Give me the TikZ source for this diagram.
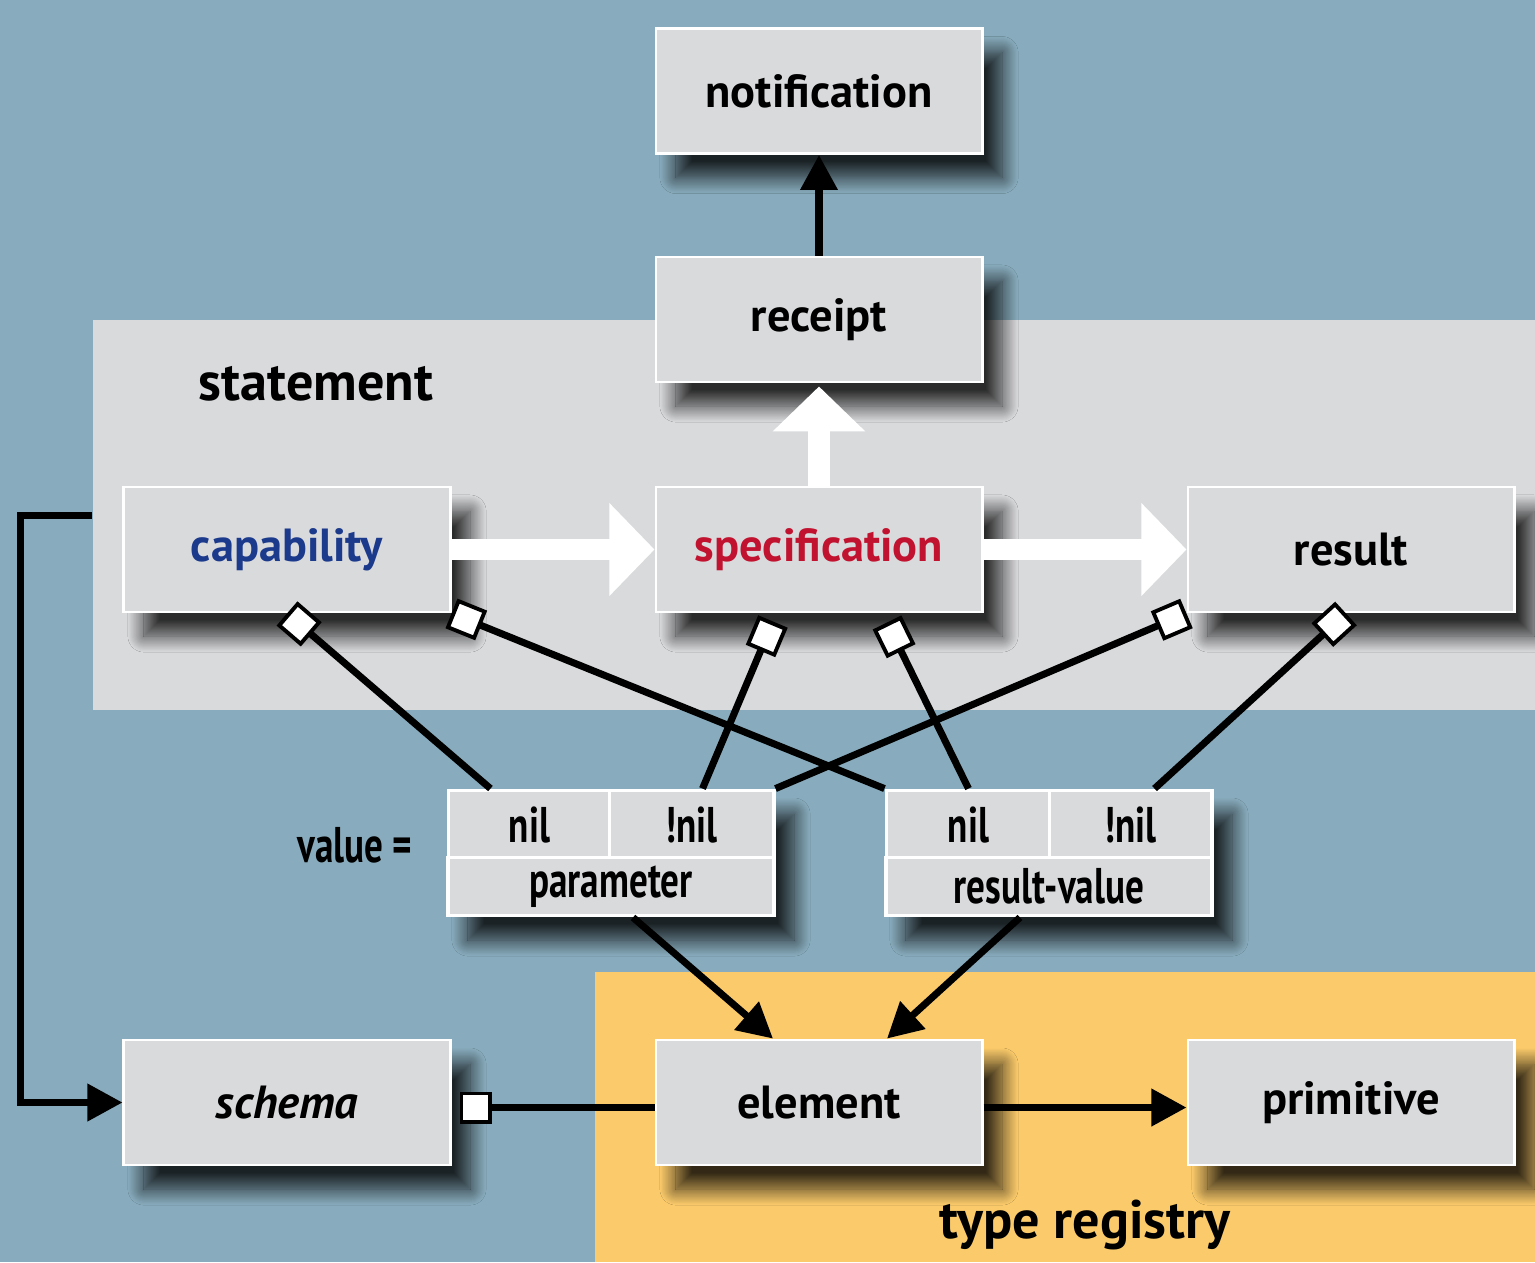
\documentclass[tikz,border=0pt]{standalone}
\usepackage{fontspec}
\usepackage{graphicx}
\setmainfont{PT Sans}
\usetikzlibrary{arrows.meta,shadows.blur}
\definecolor{bgblue}{HTML}{88ACBD}
\definecolor{panelgray}{HTML}{D9DADC}
\definecolor{regyellow}{HTML}{FBCB6B}
\definecolor{capblue}{HTML}{1C3A8C}
\definecolor{specred}{HTML}{C1122F}
\tikzset{
  lbl/.style={font=\fontsize{13.2}{15}\selectfont\bfseries, inner sep=0pt},
  panellbl/.style={font=\fontsize{15.4}{17}\selectfont\bfseries, inner sep=0pt},
  box/.style={rectangle, fill=panelgray, draw=white, line width=0.8pt, minimum width=3.26cm, minimum height=1.25cm,
    lbl, blur shadow={shadow xshift=0.2cm, shadow yshift=-0.24cm, shadow blur radius=0.16cm, shadow opacity=80, shadow blur steps=20}},
  cell/.style={rectangle, fill=panelgray, draw=white, line width=1.1pt, lbl},
  link/.style={line width=2pt, {Square[length=0.32cm,width=0.32cm,fill=white,line width=1.1pt]}-},
  flow/.style={line width=2pt, -{Triangle[length=0.35cm,width=0.36cm]}},
  bigflow/.style={white, line width=0.21cm, -{Triangle[length=0.45cm,width=0.9cm]}},
}
\newcommand{\cond}[1]{\scalebox{0.8}[1.08]{#1}}
\begin{document}
\begin{tikzpicture}[x=0.01cm,y=-0.01cm]
    \useasboundingbox (0,0) rectangle (1535,1262);
    \fill[bgblue] (0,0) rectangle (1535,1262);
    \node[fill=panelgray, minimum width=14.42cm, minimum height=3.9cm, inner sep=0pt] (stmt) at (814,515) {};
    \node[fill=regyellow, minimum width=9.4cm, minimum height=2.9cm, inner sep=0pt] (reg) at (1065,1117) {};
    \node[panellbl] (stmtlbl) at (316,384) {statement};
    \node[panellbl] (reglbl) at (1085,1225) {type registry};

    \node[box] (notif) at (819,91) {notification};
    \node[box] (rcpt) at (819,319.5) {receipt};
    \node[box, text=capblue] (cap) at (287,549.5) {capability};
    \node[box, text=specred] (spec) at (819,549.5) {specification};
    \node[box] (res) at (1351,549.5) {result};
    \node[box] (sch) at (287,1102.5) {\itshape schema};
    \node[box] (elem) at (819,1102.5) {element};
    \node[box] (prim) at (1351,1102.5) {primitive};

    % value tables
    \node[lbl] (vallbl) at (355,845) {\cond{value =}};
    \node[box, minimum height=1.26cm] (ptab) at (611,853) {};
    \node[cell, minimum width=1.62cm, minimum height=0.68cm, anchor=north west] (pnil) at (ptab.north west) {\cond{nil}};
    \node[cell, minimum width=1.64cm, minimum height=0.68cm, anchor=north east] (pnnil) at (ptab.north east) {\cond{!nil}};
    \node[cell, minimum width=3.26cm, minimum height=0.58cm, anchor=south] (par) at (ptab.south) {\cond{parameter}};
    \node[box, minimum height=1.26cm] (rtab) at (1049,853) {};
    \node[cell, minimum width=1.64cm, minimum height=0.68cm, anchor=north west] (rnil) at (rtab.north west) {\cond{nil}};
    \node[cell, minimum width=1.62cm, minimum height=0.68cm, anchor=north east] (rnnil) at (rtab.north east) {\cond{!nil}};
    \node[cell, minimum width=3.26cm, minimum height=0.58cm, anchor=south] (rval) at (rtab.south) {\cond{result-value}};

    \draw[link] (cap.south) -- ([xshift=-0.39cm]pnil.north);
    \draw[link] (cap.south east) -- (rnil.north west);
    \draw[link] ([xshift=-0.46cm,yshift=-0.08cm]spec.south) -- ([xshift=0.11cm]pnnil.north);
    \draw[link] ([xshift=0.68cm,yshift=-0.09cm]spec.south) -- (rnil.north);
    \draw[link] (res.south west) -- (pnnil.north east);
    \draw[link] ([xshift=-0.05cm]res.south) -- ([xshift=0.24cm]rnnil.north);
    \draw[link] ([xshift=0.08cm,yshift=-0.05cm]sch.east) -- ([yshift=-0.05cm]elem.west);

    \draw[flow] ([xshift=0.22cm]ptab.south) -- ([xshift=-0.46cm]elem.north);
    \draw[flow] ([xshift=-0.29cm]rtab.south) -- ([xshift=0.68cm]elem.north);
    \draw[flow] ([yshift=-0.05cm]elem.east) -- ([yshift=-0.05cm]prim.west);
    \draw[flow] (stmt.west) -- ++(-71,0) |- (sch.west);
    \draw[flow] (rcpt.north) -- (notif.south);

    \draw[bigflow] (spec.north) -- ([yshift=-0.03cm]rcpt.south);
    \draw[bigflow] (cap.east) -- (spec.west);
    \draw[bigflow] (spec.east) -- (res.west);
\end{tikzpicture}
\end{document}
